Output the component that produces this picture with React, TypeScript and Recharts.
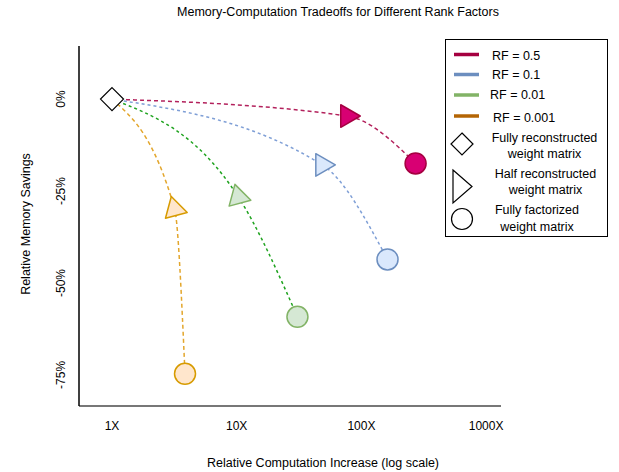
import React from 'react';
import {
  ComposedChart,
  Line,
  Scatter,
  XAxis,
  YAxis,
  Legend,
  Label,
} from 'recharts';

const rankFactors = ['RF = 0.5', 'RF = 0.1', 'RF = 0.01', 'RF = 0.001'];
const baseComputation = 1;
const baseMemory = 0;
const halfComputation = [77, 48.6, 10.3, 3.18];
const halfMemory = [-4.6, -17.9, -26.6, -29.9];
const factorComputation = [272, 162, 30.7, 3.85];
const factorMemory = [-17.5, -43.6, -59.2, -74.7];
const xTicks = [1, 10, 100, 1000];
const yTicks = [0, -25, -50, -75];

const markerLabels = [
  ['Fully reconstructed', 'weight matrix'],
  ['Half reconstructed', 'weight matrix'],
  ['Fully factorized', 'weight matrix'],
];

// draw.io-ish palette per series
const seriesStyle = [
  { curve: '#b3215c', dash: '4 3', fill: '#d80073', stroke: '#a50040', legend: '#a50040', rotate: 0 },
  { curve: '#7f9fd6', dash: '3 3', fill: '#dae8fc', stroke: '#6c8ebf', legend: '#6c8ebf', rotate: 0 },
  { curve: '#1fa31f', dash: '3 3', fill: '#d5e8d4', stroke: '#82b366', legend: '#82b366', rotate: 15 },
  { curve: '#e3a62c', dash: '4 3', fill: '#ffe6cc', stroke: '#d79b00', legend: '#b46504', rotate: 15 },
];

const FONT = '"Liberation Sans", Arial, Helvetica, sans-serif';

const series = rankFactors.map((name, i) => ({
  name,
  data: [
    { x: baseComputation, y: baseMemory },
    { x: halfComputation[i], y: halfMemory[i] },
    { x: factorComputation[i], y: factorMemory[i] },
  ],
}));

function trianglePoints(cx: number, cy: number, r: number) {
  return `${cx + r},${cy} ${cx - r / 2},${cy - r * 0.866} ${cx - r / 2},${cy + r * 0.866}`;
}

function makeDot(i: number) {
  const st = seriesStyle[i];
  return (props: any) => {
    const { cx, cy, index } = props;
    const key = `dot-${i}-${index}`;
    if (index === 1) {
      return (
        <polygon
          key={key}
          points={trianglePoints(cx, cy, 13)}
          fill={st.fill}
          stroke={st.stroke}
          strokeWidth={1.5}
          strokeLinejoin="round"
          transform={`rotate(${st.rotate}, ${cx}, ${cy})`}
        />
      );
    }
    if (index === 2) {
      return <circle key={key} cx={cx} cy={cy} r={10.5} fill={st.fill} stroke={st.stroke} strokeWidth={1.5} />;
    }
    return <g key={key} />;
  };
}

const Diamond = (props: any) => {
  const { cx, cy } = props;
  const d = 11.5;
  return (
    <polygon
      points={`${cx},${cy - d} ${cx + d},${cy} ${cx},${cy + d} ${cx - d},${cy}`}
      fill="#fff"
      stroke="#000"
      strokeWidth={1.2}
    />
  );
};

const YTick = (props: any) => {
  const { x, y, payload } = props;
  return (
    <text
      x={x}
      y={y}
      transform={`rotate(-90, ${x}, ${y})`}
      textAnchor="middle"
      dominantBaseline="central"
      fontSize={12}
      fontFamily={FONT}
      fill="#000"
    >
      {`${payload.value}%`}
    </text>
  );
};

const XTick = (props: any) => {
  const { x, y, payload } = props;
  return (
    <text x={x} y={y} textAnchor="middle" dominantBaseline="central" fontSize={12} fontFamily={FONT} fill="#000">
      {`${payload.value}X`}
    </text>
  );
};

const LegendBox = () => (
  <div
    style={{
      width: 163,
      height: 198,
      border: '1.5px solid #000',
      boxSizing: 'border-box',
      background: '#fff',
      position: 'relative',
    }}
  >
    <svg width={163} height={198} style={{ position: 'absolute', left: -1.5, top: -1.5 }}>
      {rankFactors.map((name, i) => {
        const y = [15.5, 35.5, 56, 77][i];
        const tx = [47, 47, 45, 48][i];
        const ty = [17, 36, 56, 79][i];
        return (
          <g key={name}>
            <line x1={9} x2={34} y1={y} y2={y} stroke={seriesStyle[i].legend} strokeWidth={3.5} />
            <text x={tx} y={ty} dominantBaseline="central" fontSize={12.5} fontFamily={FONT} fill="#000">
              {name}
            </text>
          </g>
        );
      })}
      <polygon points="17,94 28,105 17,116 6,105" fill="#fff" stroke="#000" strokeWidth={1.2} />
      <polygon points="8,131 27,147.5 8,164" fill="#fff" stroke="#000" strokeWidth={1.2} />
      <circle cx={17} cy={180} r={10.5} fill="#fff" stroke="#000" strokeWidth={1.2} />
      {markerLabels.map((lines, k) => {
        const cx = [99.5, 100.5, 92][k];
        const ys = [
          [98.7, 115],
          [134.7, 151],
          [171, 188],
        ][k];
        return lines.map((t, j) => (
          <text
            key={`${k}-${j}`}
            x={cx}
            y={ys[j]}
            textAnchor="middle"
            dominantBaseline="central"
            fontSize={12.5}
            fontFamily={FONT}
            fill="#000"
          >
            {t}
          </text>
        ));
      })}
    </svg>
  </div>
);

export default function App() {
  return (
    <div style={{ position: 'absolute', left: 0, top: 0, width: 619, height: 472, background: '#fff' }}>
      <div
        style={{
          position: 'absolute',
          left: 0,
          top: 5,
          width: 676,
          textAlign: 'center',
          fontSize: 12.5,
          fontFamily: FONT,
          color: '#000',
        }}
      >
        Memory-Computation Tradeoffs for Different Rank Factors
      </div>
      <ComposedChart width={619} height={472} margin={{ top: 46, right: 118, bottom: 0, left: 0 }}>
        <XAxis
          dataKey="x"
          type="number"
          scale="log"
          domain={[0.5436, 1317]}
          allowDataOverflow
          ticks={xTicks}
          tick={<XTick />}
          tickLine={false}
          tickSize={0}
          tickMargin={20}
          height={66}
          axisLine={{ stroke: '#777', strokeWidth: 2 }}
        >
          <Label
            content={() => (
              <text x={323} y={463} textAnchor="middle" dominantBaseline="central" fontSize={12.5} fontFamily={FONT} fill="#000">
                Relative Computation Increase (log scale)
              </text>
            )}
          />
        </XAxis>
        <YAxis
          dataKey="y"
          type="number"
          domain={[-83.45, 14.44]}
          allowDataOverflow
          ticks={yTicks}
          tick={<YTick />}
          tickLine={false}
          tickSize={0}
          tickMargin={18}
          width={79}
          axisLine={{ stroke: '#000', strokeWidth: 1.5 }}
        >
          <Label
            content={() => (
              <text
                x={26}
                y={224}
                transform="rotate(-90, 26, 224)"
                textAnchor="middle"
                dominantBaseline="central"
                fontSize={12.5}
                fontFamily={FONT}
                fill="#000"
              >
                Relative Memory Savings
              </text>
            )}
          />
        </YAxis>
        <Scatter
          data={[{ x: baseComputation, y: baseMemory }]}
          shape={<Diamond />}
          isAnimationActive={false}
          legendType="none"
        />
        {series.map((s, i) => (
          <Line
            key={s.name}
            data={s.data}
            dataKey="y"
            name={s.name}
            type="monotoneX"
            stroke={seriesStyle[i].curve}
            strokeWidth={1.5}
            strokeDasharray={seriesStyle[i].dash}
            dot={makeDot(i)}
            activeDot={false}
            isAnimationActive={false}
          />
        ))}
        <Legend
          layout="vertical"
          align="center"
          verticalAlign="middle"
          content={() => <LegendBox />}
          wrapperStyle={{ left: 445, top: 39, width: 163, height: 198 }}
        />
      </ComposedChart>
    </div>
  );
}
